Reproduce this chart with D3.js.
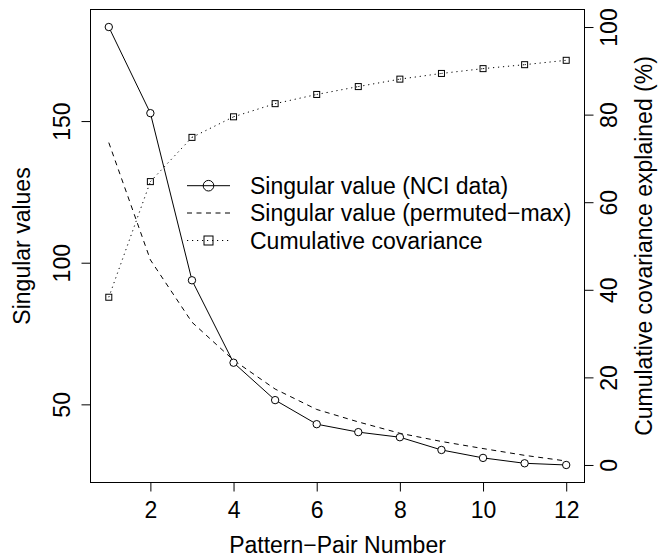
<!DOCTYPE html>
<html>
<head>
<meta charset="utf-8">
<script src="https://cdn.jsdelivr.net/npm/d3@7/dist/d3.min.js"></script>
<style>
  html, body { margin: 0; padding: 0; background: #fff; }
  svg text { font-family: "Liberation Sans", Arial, Helvetica, sans-serif; fill: #000; }
</style>
</head>
<body>
<svg id="chart" width="668" height="558"></svg>
<script>
// ---- data ----
const patternPairs = [1, 2, 3, 4, 5, 6, 7, 8, 9, 10, 11, 12];
const svNCI = [183.2, 152.8, 93.8, 64.7, 51.5, 43.0, 40.2, 38.4, 33.9, 31.1, 29.2, 28.6];
const svPermMax = [142.4, 101.0, 79.0, 65.6, 55.4, 48.2, 43.8, 39.8, 36.9, 34.4, 32.0, 30.0];
const cumCov = [38.3, 64.7, 74.8, 79.5, 82.5, 84.6, 86.4, 88.1, 89.4, 90.5, 91.4, 92.4];
const xTicks = [2, 4, 6, 8, 10, 12];
const yLeftTicks = [50, 100, 150];
const yRightTicks = [0, 20, 40, 60, 80, 100];
const legendLabels = ["Singular value (NCI data)", "Singular value (permuted\u2212max)", "Cumulative covariance"];
const xTitle = "Pattern\u2212Pair Number";
const yLeftTitle = "Singular values";
const yRightTitle = "Cumulative covariance explained (%)";

(function () {
// ---- layout ----
const pL = 90.5, pR = 584.5, pT = 9.5, pB = 482.5;
const FS = 23;

function rExt(lo, hi) { const d = (hi - lo) * 0.04; return [lo - d, hi + d]; }

const x = d3.scaleLinear().domain(rExt(...d3.extent(patternPairs))).range([pL, pR]);
const allSV = svNCI.concat(svPermMax);
const yL = d3.scaleLinear().domain(rExt(d3.min(allSV), d3.max(allSV))).range([pB, pT]);
const yR = d3.scaleLinear().domain(rExt(0, 100)).range([pB, pT]);

const svg = d3.select("#chart");

// axes
const ax = svg.append("g").attr("transform", `translate(0,${pB})`)
  .call(d3.axisBottom(x).tickValues(xTicks).tickSize(9).tickSizeOuter(0));
ax.select(".domain").remove();
ax.selectAll("text").attr("y", 35.5).attr("dy", 0);

const ayl = svg.append("g").attr("transform", `translate(${pL},0)`)
  .call(d3.axisLeft(yL).tickValues(yLeftTicks).tickSize(9).tickSizeOuter(0));
ayl.select(".domain").remove();
ayl.selectAll("text").attr("x", 0).attr("y", -20.5).attr("dy", 0)
  .attr("transform", "rotate(-90)").attr("text-anchor", "middle");

const ayr = svg.append("g").attr("transform", `translate(${pR},0)`)
  .call(d3.axisRight(yR).tickValues(yRightTicks).tickSize(9).tickSizeOuter(0));
ayr.select(".domain").remove();
ayr.selectAll("text").attr("x", 0).attr("y", 32).attr("dy", 0)
  .attr("transform", "rotate(-90)").attr("text-anchor", "middle");

svg.selectAll(".tick line").attr("stroke", "#000").attr("stroke-width", 1);
svg.selectAll("g").attr("font-family", null).attr("font-size", null);
svg.selectAll(".tick text").style("font-size", FS + "px").attr("fill", "#000");

// box
svg.append("rect").attr("x", pL).attr("y", pT)
  .attr("width", pR - pL).attr("height", pB - pT)
  .attr("fill", "none").attr("stroke", "#000").attr("stroke-width", 1);

// titles
svg.append("text").attr("x", (pL + pR) / 2).attr("y", 553)
  .attr("text-anchor", "middle").style("font-size", FS + "px").text(xTitle);
svg.append("text").attr("transform", `translate(30,${(pT + pB) / 2}) rotate(-90)`)
  .attr("text-anchor", "middle").style("font-size", FS + "px").text(yLeftTitle);
svg.append("text").attr("transform", `translate(652,${(pT + pB) / 2}) rotate(-90)`)
  .attr("text-anchor", "middle").style("font-size", FS + "px").text(yRightTitle);

// series
const line = d3.line();
const ptsNCI = patternPairs.map((p, i) => [x(p), yL(svNCI[i])]);
const ptsPerm = patternPairs.map((p, i) => [x(p), yL(svPermMax[i])]);
const ptsCum = patternPairs.map((p, i) => [x(p), yR(cumCov[i])]);

// cumulative covariance: dotted segments starting at each point
for (let i = 0; i < ptsCum.length - 1; i++) {
  svg.append("path").attr("d", line([ptsCum[i], ptsCum[i + 1]]))
    .attr("fill", "none").attr("stroke", "#000").attr("stroke-width", 1)
    .attr("stroke-dasharray", "1.2,3.8");
}
const sq = 6;
svg.append("g").selectAll("rect").data(ptsCum).join("rect")
  .attr("x", d => d[0] - sq / 2).attr("y", d => d[1] - sq / 2)
  .attr("width", sq).attr("height", sq)
  .attr("fill", "none").attr("stroke", "#000").attr("stroke-width", 1);

// permuted max dashed
svg.append("path").attr("d", line(ptsPerm))
  .attr("fill", "none").attr("stroke", "#000").attr("stroke-width", 1)
  .attr("stroke-dasharray", "5,4.5");

// NCI solid with circles (gaps)
svg.append("path").attr("d", line(ptsNCI))
  .attr("fill", "none").attr("stroke", "#000").attr("stroke-width", 1);
svg.append("g").selectAll("circle").data(ptsNCI).join("circle")
  .attr("cx", d => d[0]).attr("cy", d => d[1]).attr("r", 3.7)
  .attr("fill", "#fff").attr("stroke", "#000").attr("stroke-width", 1);

// legend
const lgX0 = 187, lgX1 = 230, lgXm = 208.5, lgTx = 250;
const lgY = [185.7, 213, 240.5];
const lg = svg.append("g");
lg.append("line").attr("x1", lgX0).attr("x2", lgX1).attr("y1", lgY[0]).attr("y2", lgY[0])
  .attr("stroke", "#000");
lg.append("circle").attr("cx", lgXm).attr("cy", lgY[0]).attr("r", 5.3)
  .attr("fill", "none").attr("stroke", "#000");
lg.append("line").attr("x1", lgX0).attr("x2", lgX1).attr("y1", lgY[1]).attr("y2", lgY[1])
  .attr("stroke", "#000").attr("stroke-dasharray", "5,4.5");
lg.append("line").attr("x1", lgX0).attr("x2", lgX1).attr("y1", lgY[2]).attr("y2", lgY[2])
  .attr("stroke", "#000").attr("stroke-dasharray", "1.2,3.8");
lg.append("rect").attr("x", lgXm - 4.5).attr("y", lgY[2] - 4.5).attr("width", 9).attr("height", 9)
  .attr("fill", "none").attr("stroke", "#000");
lg.selectAll("text").data(legendLabels).join("text")
  .attr("x", lgTx).attr("y", (d, i) => lgY[i]).attr("dy", "0.36em")
  .style("font-size", FS + "px").text(d => d);
})();
</script>
</body>
</html>
